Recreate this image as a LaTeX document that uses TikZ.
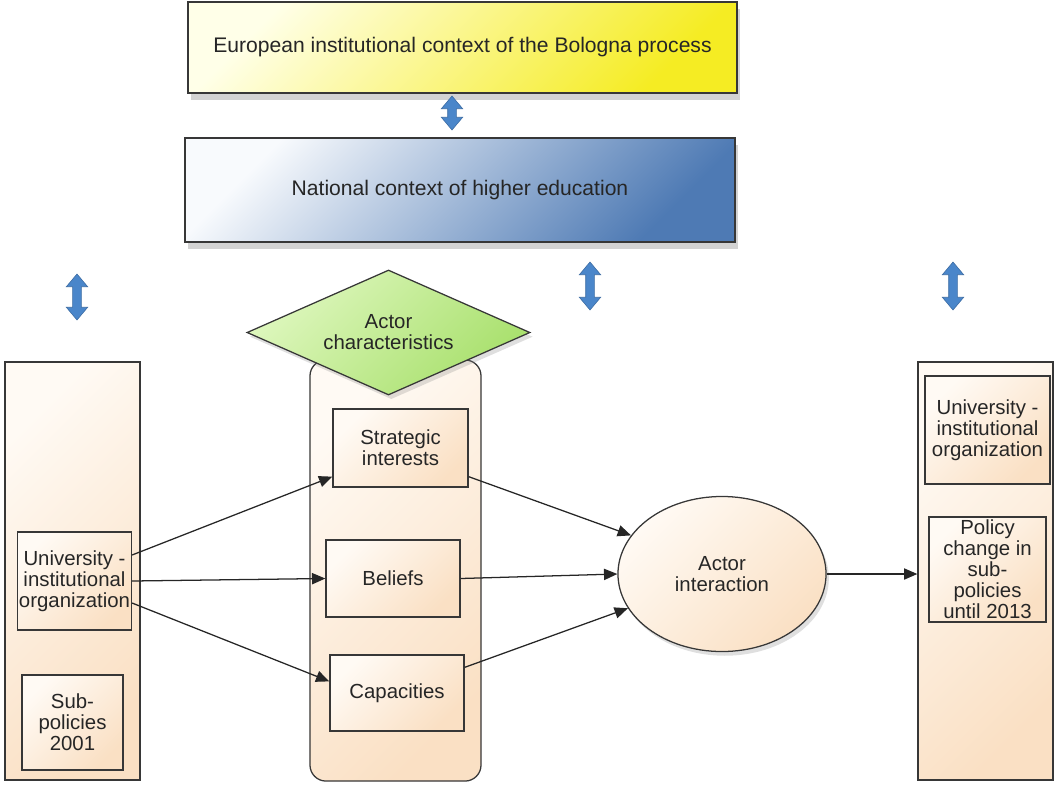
\documentclass[tikz,border=0pt]{standalone}
\usepackage{fontspec}
\setmainfont{Liberation Sans}
\usetikzlibrary{shapes.geometric,shapes.arrows,arrows.meta,shadows}

\definecolor{cor_peach1}{RGB}{255,250,244}
\definecolor{cor_peach2}{RGB}{250,224,196}
\definecolor{cor_yellow1}{RGB}{255,255,232}
\definecolor{cor_yellow3}{RGB}{255,255,190}
\definecolor{cor_yellow2}{RGB}{245,236,35}
\definecolor{cor_blue1}{RGB}{248,250,253}
\definecolor{cor_blue3}{RGB}{214,222,236}
\definecolor{cor_blue2}{RGB}{78,122,180}
\definecolor{cor_green1}{RGB}{222,247,190}
\definecolor{cor_green2}{RGB}{168,224,108}
\definecolor{cor_arrow}{RGB}{74,134,202}
\definecolor{cor_line}{RGB}{55,55,55}
\definecolor{cor_text}{RGB}{38,38,38}

\begin{document}
\begin{tikzpicture}[x=0.025cm, y=-0.025cm]
        \tikzset{
            ret/.style={
                draw=cor_line,
                line width=0.9pt,
                left color=cor_peach1,
                right color=cor_peach2,
                shading angle=45,
                text=cor_text,
                align=center,
                inner sep=1pt,
                font=\fontsize{14.5}{15}\selectfont
            },
            topo/.style={
                ret,
                font=\fontsize{15}{17}\selectfont,
                drop shadow={shadow xshift=2pt, shadow yshift=-5pt, opacity=0.35}
            },
            seta/.style={
                draw=black!85,
                line width=0.9pt,
                -{Triangle[length=9.5pt, width=8pt]}
            },
            dupla/.style={
                double arrow,
                rotate=90,
                draw=cor_arrow!80!black,
                fill=cor_arrow,
                inner xsep=0pt,
                inner ysep=0.1cm,
                minimum width=0.52cm,
                double arrow head extend=0.16cm,
                double arrow tip angle=80
            }
        }
        \useasboundingbox (0,0) rectangle (1057,784);

        % contextos
        \node[topo, left color=cor_yellow1, middle color=cor_yellow3, right color=cor_yellow2, shading angle=45,
              minimum width=13.725cm, minimum height=2.275cm] (euro) at (462.5,47.5)
              {European institutional context of the Bologna process};
        \node[topo, left color=cor_blue1, middle color=cor_blue3, right color=cor_blue2, shading angle=45,
              minimum width=13.75cm, minimum height=2.6cm] (natl) at (460,190)
              {National context of higher education};

        \foreach \x/\y/\l in {452/113/0.85, 77/297/1.15, 590/286/1.2, 953/286/1.2} {
            \node[dupla, minimum height=\l cm] (dup\x) at (\x,\y) {};
        }

        % colunas
        \node[ret, minimum width=3.375cm, minimum height=10.45cm] (leftcol) at (72.5,571) {};
        \node[ret, rounded corners=0.4cm, minimum width=4.275cm, minimum height=10.525cm] (midcol) at (395.5,570.5) {};
        \node[ret, minimum width=3.375cm, minimum height=10.45cm] (rightcol) at (985.5,571) {};

        \node[ret, minimum width=2.825cm, minimum height=2.45cm] (uni) at (74.5,581)
              {University -\\institutional\\organization};
        \node[ret, minimum width=2.525cm, minimum height=2.375cm] (sub) at (72.5,722.5)
              {Sub-\\policies\\2001};

        \node[diamond, draw=cor_line, line width=0.9pt, left color=cor_green1, right color=cor_green2,
              shading angle=45, aspect=2.26, inner sep=0pt, minimum width=7.075cm, minimum height=3.125cm,
              text=cor_text, align=center, font=\fontsize{14.5}{15}\selectfont,
              drop shadow={shadow xshift=2pt, shadow yshift=-3pt, opacity=0.25}] (actor) at (388.5,332.5)
              {Actor\\characteristics};

        \node[ret, minimum width=3.375cm, minimum height=1.95cm] (strat) at (400.5,448) {Strategic\\interests};
        \node[ret, minimum width=3.35cm, minimum height=1.925cm] (bel) at (393,578.5) {Beliefs};
        \node[ret, minimum width=3.35cm, minimum height=1.9cm] (cap) at (397,693) {Capacities};

        \node[ret, ellipse, minimum width=5.2cm, minimum height=3.875cm,
              drop shadow={shadow xshift=2pt, shadow yshift=-3pt, opacity=0.25}] (inter) at (722,574)
              {Actor\\interaction};

        \node[ret, minimum width=3.125cm, minimum height=2.7cm] (runi) at (987.5,430)
              {University -\\institutional\\organization};
        \node[ret, minimum width=2.925cm, minimum height=2.625cm] (pol) at (987.5,569.5)
              {Policy\\change in\\sub-\\policies\\until 2013};

        % setas
        \draw[seta] ([yshift=0.65cm]uni.east) -- ([yshift=0.275cm]strat.south west);
        \draw[seta] (uni.east) -- (bel.west);
        \draw[seta] ([yshift=-0.55cm]uni.east) -- ([yshift=-0.675cm]cap.north west);
        \draw[seta] ([yshift=0.275cm]strat.south east) -- (inter.157);
        \draw[seta] (bel.east) -- (inter.west);
        \draw[seta] ([yshift=-0.325cm]cap.north east) -- (inter.200);
        \draw[seta] (inter.east) -- (inter.east -| rightcol.west);

    \end{tikzpicture}
\end{document}
